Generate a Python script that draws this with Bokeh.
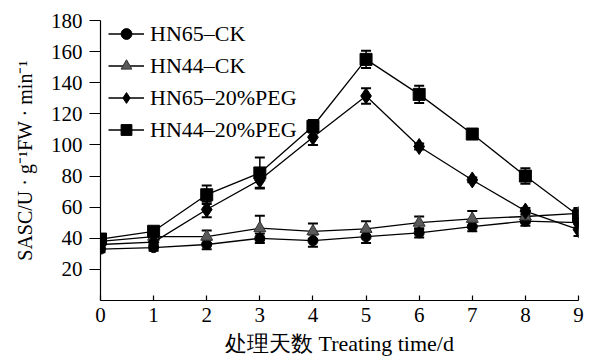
from bokeh.plotting import figure
from bokeh.models import ColumnDataSource, Whisker, TeeHead, FixedTicker, Legend, LegendItem, Range1d
from bokeh.embed import file_html
from bokeh.resources import INLINE

days = [0, 1, 2, 3, 4, 5, 6, 7, 8, 9]
hn65_ck = [33, 34, 36, 40, 38.5, 41, 43.5, 47.5, 51, 50]
hn65_ck_err = [2, 2, 3, 3, 4, 4, 3, 3, 3, 3]
hn44_ck = [38, 41, 41, 46.5, 44.5, 46, 50, 52.5, 54, 56]
hn44_ck_err = [2, 3, 4, 8, 5, 5, 4, 5, 4, 3]
hn65_peg = [36, 37.5, 58.5, 77.5, 105, 131.5, 99, 77.5, 57.5, 45.5]
hn65_peg_err = [2, 2, 5, 5, 5, 5, 2, 1.5, 2, 4]
hn44_peg = [39.5, 44.5, 68, 82, 112, 155, 132.5, 107, 80, 54.5]
hn44_peg_err = [3, 2, 6, 10, 4, 5.5, 5.5, 2, 5, 5]
series_names = ["HN65\u2013CK", "HN44\u2013CK", "HN65\u201320%PEG", "HN44\u201320%PEG"]
y_ticks = [20, 40, 60, 80, 100, 120, 140, 160, 180]

FONT = "Liberation Serif"

p = figure(width=584, height=358, output_backend="svg", toolbar_location=None,
           x_range=Range1d(0, 9), y_range=Range1d(0, 180),
           min_border_left=100, min_border_right=6, min_border_top=20, min_border_bottom=55)
p.outline_line_color = None
p.xgrid.visible = False
p.ygrid.visible = False
p.background_fill_color = "white"

series = [
    (hn65_ck, hn65_ck_err, "circle", 10, "black"),
    (hn44_ck, hn44_ck_err, "triangle", 12, "#5a5a5a"),
    (hn65_peg, hn65_peg_err, "diamond", 16, "black"),
    (hn44_peg, hn44_peg_err, "square", 12, "black"),
]

items = []
for (vals, errs, marker, size, color), name in zip(series, series_names):
    src = ColumnDataSource(dict(x=days, y=vals,
                                upper=[v + e for v, e in zip(vals, errs)],
                                lower=[v - e for v, e in zip(vals, errs)]))
    w = Whisker(source=src, base="x", upper="upper", lower="lower",
                line_color="black", line_width=1.5,
                upper_head=TeeHead(size=10, line_color="black", line_width=2),
                lower_head=TeeHead(size=10, line_color="black", line_width=2))
    p.add_layout(w)
    ln = p.line("x", "y", source=src, line_color="black", line_width=1.3)
    sc = p.scatter("x", "y", source=src, marker=marker, size=size,
                   fill_color=color, line_color="black" if marker != "triangle" else "#333333",
                   line_width=1)
    items.append(LegendItem(label=name, renderers=[ln, sc]))

legend = Legend(items=items, location=(8, 157), margin=0, padding=0,
                glyph_width=36, glyph_height=27, label_height=27, spacing=5,
                label_standoff=6, border_line_color=None, background_fill_alpha=0,
                label_text_font=FONT, label_text_font_size="22px", label_text_color="black")
p.add_layout(legend)

p.xaxis.ticker = FixedTicker(ticks=days)
p.yaxis.ticker = FixedTicker(ticks=y_ticks)
for ax in (p.xaxis, p.yaxis):
    ax.axis_line_color = "black"
    ax.axis_line_width = 1.2
    ax.major_tick_line_color = "black"
    ax.major_tick_line_width = 1.2
    ax.minor_tick_line_color = None
    ax.major_label_text_font = FONT
    ax.major_label_text_font_size = "21px"
    ax.major_label_text_color = "black"
    ax.axis_label_text_font = FONT
    ax.axis_label_text_font_size = "22px"
    ax.axis_label_text_font_style = "normal"
    ax.axis_label_text_color = "black"

p.xaxis.major_tick_in = 5
p.xaxis.major_tick_out = 0
p.xaxis.major_label_standoff = 7
p.xaxis.axis_label = "处理天数 Treating time/d"
p.xaxis.axis_label_standoff = 6

p.yaxis.major_tick_in = 0
p.yaxis.major_tick_out = 11
p.yaxis.major_label_standoff = 7
p.yaxis.axis_label = "SASC/U · g\u207b\u00b9FW · min\u207b\u00b9"
p.yaxis.axis_label_text_font_size = "20px"
p.yaxis.axis_label_standoff = 12

open("out.html", "w").write(file_html(p, INLINE))
